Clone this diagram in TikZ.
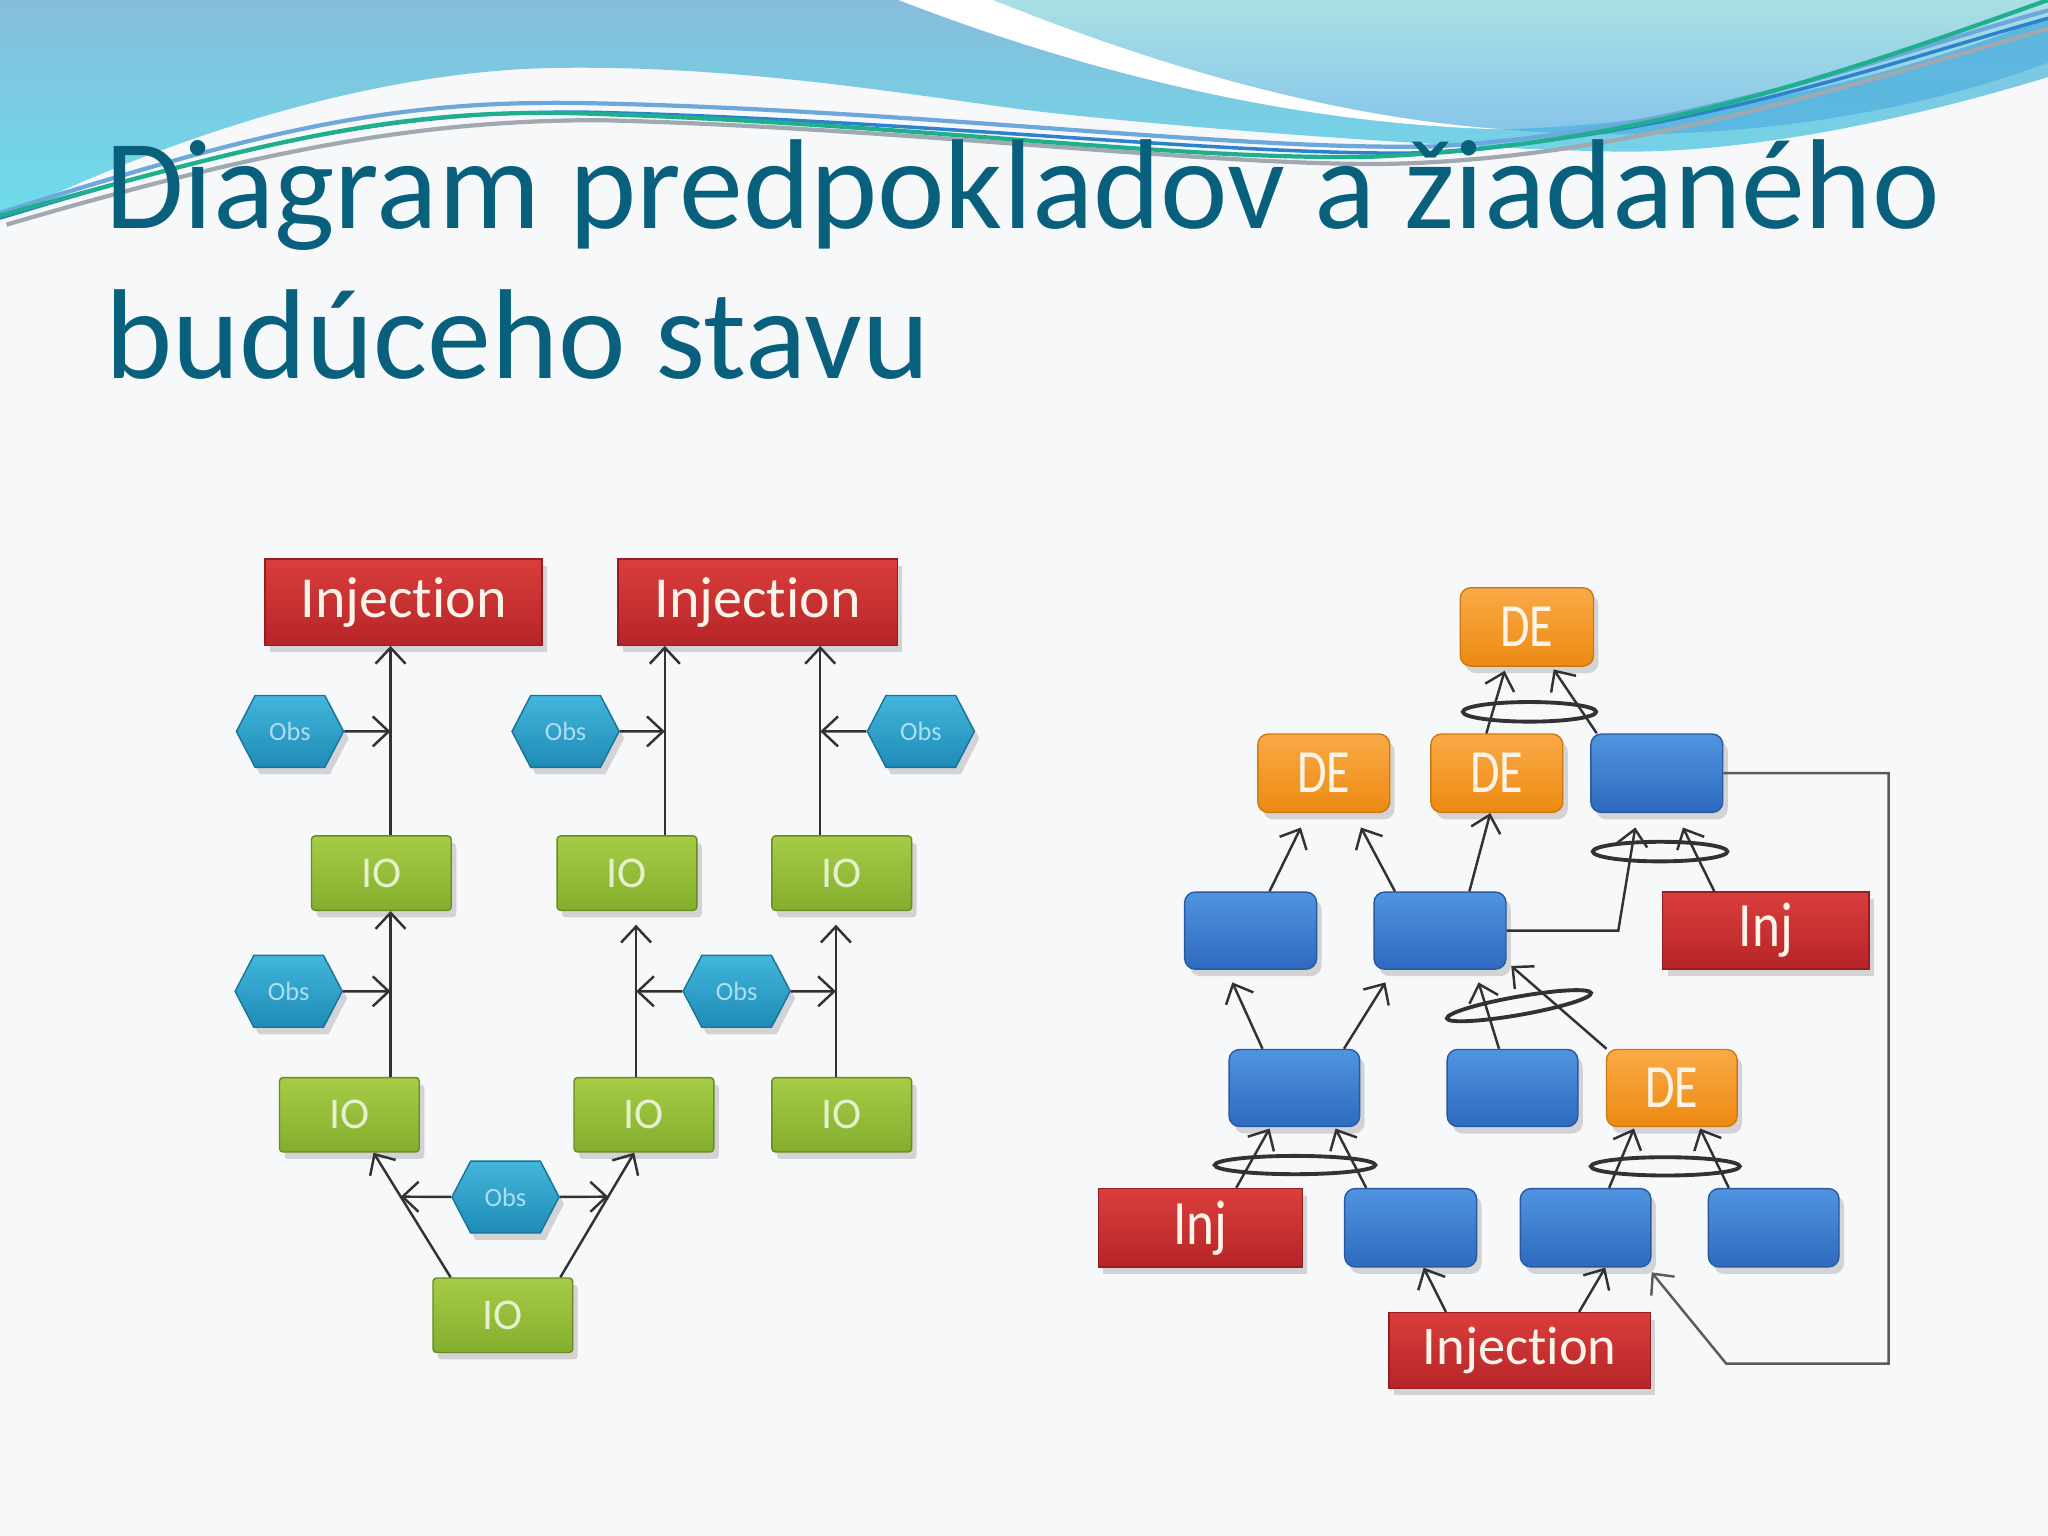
\documentclass[tikz,border=0pt]{standalone}
\usepackage{fontspec}
\usepackage{graphicx}
\setmainfont{Carlito}[Ligatures=NoCommon]
\usetikzlibrary{arrows.meta,shapes.symbols,shadows,calc}

\definecolor{bgc}{RGB}{247,248,250}
\definecolor{titlec}{RGB}{8,96,124}
\definecolor{waveA}{RGB}{134,189,219}
\definecolor{waveB}{RGB}{108,221,236}
\definecolor{aquaA}{RGB}{168,224,228}
\definecolor{aquaB}{RGB}{136,198,234}
\definecolor{bandc}{RGB}{85,179,223}
\definecolor{lgreen}{RGB}{30,176,140}
\definecolor{lblue}{RGB}{45,130,205}
\definecolor{lgray}{RGB}{160,168,176}
\definecolor{redt}{RGB}{218,62,60}
\definecolor{redb}{RGB}{182,36,40}
\definecolor{redd}{RGB}{150,30,34}
\definecolor{grnt}{RGB}{166,204,70}
\definecolor{grnb}{RGB}{132,174,46}
\definecolor{grnd}{RGB}{105,140,34}
\definecolor{obst}{RGB}{66,182,220}
\definecolor{obsb}{RGB}{30,139,182}
\definecolor{obsd}{RGB}{22,115,154}
\definecolor{orat}{RGB}{250,170,70}
\definecolor{orab}{RGB}{236,138,18}
\definecolor{orad}{RGB}{208,120,16}
\definecolor{blut}{RGB}{80,148,224}
\definecolor{blub}{RGB}{46,106,190}
\definecolor{blud}{RGB}{40,90,160}
\definecolor{linec}{RGB}{50,50,50}
\definecolor{txtw}{RGB}{252,244,232}
\definecolor{iotxt}{RGB}{228,241,204}
\definecolor{obstxt}{RGB}{170,222,240}

\newcommand{\dpx}{0.013061cm}

\tikzset{
  box/.style={draw, line width=0.4pt, inner sep=0pt,
    drop shadow={shadow xshift=0.5mm, shadow yshift=-0.7mm, opacity=0.3}},
  injbox/.style={box, draw=redd, top color=redt, bottom color=redb, text=txtw,
    font=\fontsize{16.5}{18}\selectfont, minimum height=66*\dpx},
  iobox/.style={box, rounded corners=1pt, draw=grnd, top color=grnt, bottom color=grnb,
    text=iotxt, font=\fontsize{12.5}{14}\selectfont, minimum width=107*\dpx, minimum height=57*\dpx},
  obs/.style={box, signal, signal to=east and west, signal pointer angle=125,
    draw=obsd, top color=obst, bottom color=obsb, text=obstxt,
    font=\fontsize{7.5}{9}\selectfont, minimum width=82*\dpx, minimum height=55*\dpx},
  debox/.style={box, rounded corners=3pt, draw=orad, top color=orat, bottom color=orab,
    text=txtw, font=\fontsize{17.5}{19}\selectfont, minimum width=101*\dpx, minimum height=60*\dpx},
  blubox/.style={box, rounded corners=3pt, draw=blud, top color=blut, bottom color=blub,
    minimum width=101*\dpx, minimum height=59*\dpx},
  injr/.style={box, draw=redd, top color=redt, bottom color=redb, text=txtw,
    font=\fontsize{18}{20}\selectfont, minimum width=157*\dpx, minimum height=59*\dpx},
  arr/.style={draw=linec, line width=0.7pt, -{Straight Barb[length=1.6mm,width=3mm]}},
  ring/.style={draw=linec, line width=1.1pt},
  fb/.style={draw=linec!80, line width=0.7pt}
}

\begin{document}
\begin{tikzpicture}[x=0.013061cm, y=-0.013061cm]
\useasboundingbox (0,0) rectangle (1568,1176);
\fill[bgc] (0,0) rectangle (1568,1176);

% ---- top wave decoration ----
\shade[top color=waveA, bottom color=waveB]
  (0,0) -- (1568,0) -- (1568,59)
  .. controls (1450,95) and (1330,118) .. (1234,116)
  .. controls (1120,114) and (900,98) .. (784,84)
  .. controls (680,70) and (560,50) .. (425,52)
  .. controls (300,54) and (150,95) .. (0,168) -- cycle;
\shade[top color=aquaA, bottom color=aquaB]
  (700,0) -- (1568,0) -- (1568,13)
  .. controls (1450,60) and (1300,95) .. (1150,99)
  .. controls (1000,90) and (850,45) .. (700,0) -- cycle;
\fill[white] (688,0) -- (760,0)
  .. controls (860,40) and (1000,88) .. (1150,99)
  .. controls (990,95) and (830,55) .. (688,0) -- cycle;
\fill[bandc, opacity=0.8] (1150,99) .. controls (1300,95) and (1450,60) .. (1568,13)
  -- (1568,48) .. controls (1450,92) and (1300,112) .. (1150,99) -- cycle;
\draw[lgray, line width=1.2pt] (5,172) .. controls (200,115) and (320,92) .. (460,92)
  .. controls (700,98) and (950,130) .. (1080,125) .. controls (1250,118) and (1400,70) .. (1568,22);
\draw[lblue!70, line width=1.2pt] (0,163) .. controls (200,100) and (300,76) .. (450,79)
  .. controls (700,84) and (950,116) .. (1100,112) .. controls (1300,100) and (1450,40) .. (1568,8);
\draw[lblue, line width=1pt] (0,167) .. controls (200,106) and (310,84) .. (455,86)
  .. controls (700,92) and (950,120) .. (1090,117) .. controls (1290,104) and (1440,50) .. (1568,14);
\draw[lgreen, line width=1.2pt] (0,165) .. controls (200,110) and (300,82) .. (450,87)
  .. controls (700,95) and (900,123) .. (1050,120) .. controls (1250,112) and (1400,60) .. (1568,0);

% ---- title ----
\node[anchor=base west, inner sep=0, text=titlec, font=\fontsize{36.4}{43}\selectfont] (title1) at (80,175) {Diagram predpokladov a žiadaného};
\node[anchor=base west, inner sep=0, text=titlec, font=\fontsize{36.4}{43}\selectfont] (title2) at (80,290) {budúceho stavu};

% ---- left diagram ----
\node[injbox, minimum width=212*\dpx] (inj1) at (309,461) {Injection};
\node[injbox, minimum width=214*\dpx] (inj2) at (580,461) {Injection};
\node[obs] (obs1) at (222,560) {Obs};
\node[obs] (obs2) at (433,560) {Obs};
\node[obs] (obs3) at (705,560) {Obs};
\node[iobox] (ioA) at (292,668.5) {IO};
\node[iobox] (ioB) at (480,668.5) {IO};
\node[iobox] (ioC) at (644.5,668.5) {IO};
\node[obs] (obs4) at (221,759) {Obs};
\node[obs] (obs5) at (564,759) {Obs};
\node[iobox] (ioD) at (267.5,853.5) {IO};
\node[iobox] (ioE) at (493,853.5) {IO};
\node[iobox] (ioF) at (644.5,853.5) {IO};
\node[obs] (obs6) at (387,916.5) {Obs};
\node[iobox] (ioG) at (385,1007) {IO};

\coordinate (j1) at (299,560);
\coordinate (j2) at (509,560);
\coordinate (j3) at (628,560);
\coordinate (j4) at (299,759);
\coordinate (j5) at (487,759);
\coordinate (j6) at (640,759);
\coordinate (t5) at (487,708);
\coordinate (t6) at (640,708);

\draw[arr] (ioA.north -| j1) -- (inj1.south -| j1);
\draw[arr] (obs1) -- (j1);
\draw[arr] (ioB.north -| j2) -- (inj2.south -| j2);
\draw[arr] (obs2) -- (j2);
\draw[arr] (ioC.north -| j3) -- (inj2.south -| j3);
\draw[arr] (obs3) -- (j3);
\draw[arr] (ioD.north -| j4) -- (ioA.south -| j4);
\draw[arr] (obs4) -- (j4);
\draw[arr] (ioE.north -| t5) -- (t5);
\draw[arr] (ioF.north -| t6) -- (t6);
\draw[arr] (obs5) -- (j5);
\draw[arr] (obs5) -- (j6);
\draw[arr] ([xshift=-40*\dpx]ioG.north) -- coordinate[pos=0.647] (m1) ([xshift=18.5*\dpx]ioD.south);
\draw[arr] ([xshift=44*\dpx]ioG.north) -- coordinate[pos=0.647] (m2) ([xshift=-7.4*\dpx]ioE.south);
\draw[arr] (obs6) -- (m1);
\draw[arr] (obs6) -- (m2);

% ---- right diagram ----
\node[debox, minimum width=102*\dpx] (deT) at (1169,480) {\scalebox{0.78}[1]{DE}};
\node[debox] (deA) at (1013.5,592) {\scalebox{0.78}[1]{DE}};
\node[debox] (deB) at (1146,592) {\scalebox{0.78}[1]{DE}};
\node[blubox, minimum height=60*\dpx] (bA) at (1268.5,592) {};
\node[blubox] (b1) at (957.5,712.5) {};
\node[blubox] (b2) at (1102.5,712.5) {};
\node[injr, minimum width=158*\dpx] (injR) at (1352,712.5) {\scalebox{0.84}[1]{Inj}};
\node[blubox, minimum width=100*\dpx] (b3) at (991,833) {};
\node[blubox, minimum width=100*\dpx] (b4) at (1158,833) {};
\node[debox, minimum width=100*\dpx, minimum height=59*\dpx] (deC) at (1280,833) {\scalebox{0.78}[1]{DE}};
\node[injr, minimum width=156*\dpx, minimum height=60*\dpx] (injL) at (919,940) {\scalebox{0.84}[1]{Inj}};
\node[blubox, minimum height=60*\dpx] (b5) at (1080,940) {};
\node[blubox, minimum width=100*\dpx, minimum height=60*\dpx] (b6) at (1214,940) {};
\node[blubox, minimum width=100*\dpx, minimum height=60*\dpx] (b7) at (1358,940) {};
\node[injr, minimum width=200*\dpx, minimum height=58*\dpx, font=\fontsize{15.5}{17}\selectfont] (injBR) at (1163.5,1034) {Injection};

\coordinate (k1) at (1239,712.5);
\coordinate (fbR) at (1446,1044);
\coordinate (fbL) at (1321.6,1044);

\draw[arr] ([xshift=-8*\dpx]deB.north) -- ([xshift=-17*\dpx,yshift=-3*\dpx]deT.south);
\draw[arr] ([xshift=-46*\dpx]bA.north) -- ([xshift=20.5*\dpx,yshift=-2*\dpx]deT.south);
\draw[ring] (1171,545) ellipse [x radius=51, y radius=7.5];

\draw[arr] ([xshift=14.5*\dpx]b1.north) -- ([xshift=-17.5*\dpx,yshift=-11*\dpx]deA.south);
\draw[arr] ([xshift=-34.5*\dpx]b2.north) -- ([xshift=28.5*\dpx,yshift=-11*\dpx]deA.south);
\draw[arr] ([xshift=22.5*\dpx]b2.north) -- ([xshift=-5*\dpx]deB.south);
\draw[arr] (b2.east) -- (b2.east -| k1) -- ([xshift=-16.5*\dpx,yshift=-11*\dpx]bA.south);
\draw[arr] ([xshift=-39.5*\dpx]injR.north) -- ([xshift=20*\dpx,yshift=-11*\dpx]bA.south);
\draw[ring] (1271,652) ellipse [x radius=51.5, y radius=7.5];

\draw[fb, -{Straight Barb[length=1.6mm,width=3mm]}] (bA.east) -- (bA.east -| fbR) -- (fbR) -- (fbL) -- ([yshift=-3.6*\dpx]b6.south east);

\draw[arr] ([xshift=-24.4*\dpx]b3.north) -- ([xshift=-14*\dpx,yshift=-9.6*\dpx]b1.south);
\draw[arr] ([xshift=38*\dpx]b3.north) -- ([xshift=-41.8*\dpx,yshift=-9.6*\dpx]b2.south);
\draw[arr] ([xshift=-10.3*\dpx]b4.north) -- ([xshift=29.5*\dpx,yshift=-9.6*\dpx]b2.south);
\draw[arr] ([xshift=0.5*\dpx]deC.north west) -- ([xshift=3.5*\dpx,yshift=3*\dpx]b2.south east);
\draw[ring, rotate around={10:(1163,770)}] (1163,770) ellipse [x radius=56, y radius=7];

\draw[arr] ([xshift=27.5*\dpx]injL.north) -- ([xshift=-19*\dpx,yshift=-1*\dpx]b3.south);
\draw[arr] ([xshift=-34*\dpx]b5.north) -- ([xshift=31.5*\dpx,yshift=-1*\dpx]b3.south);
\draw[ring] (991.5,892) ellipse [x radius=61.5, y radius=7];
\draw[arr] ([xshift=18*\dpx]b6.north) -- ([xshift=-29*\dpx,yshift=-1*\dpx]deC.south);
\draw[arr] ([xshift=-34.4*\dpx]b7.north) -- ([xshift=21.6*\dpx,yshift=-1*\dpx]deC.south);
\draw[ring] (1275,893) ellipse [x radius=57, y radius=7];

\draw[arr] ([xshift=-56.5*\dpx]injBR.north) -- ([xshift=10*\dpx]b5.south);
\draw[arr] ([xshift=45.5*\dpx]injBR.north) -- ([xshift=15*\dpx]b6.south);
\end{tikzpicture}
\end{document}
